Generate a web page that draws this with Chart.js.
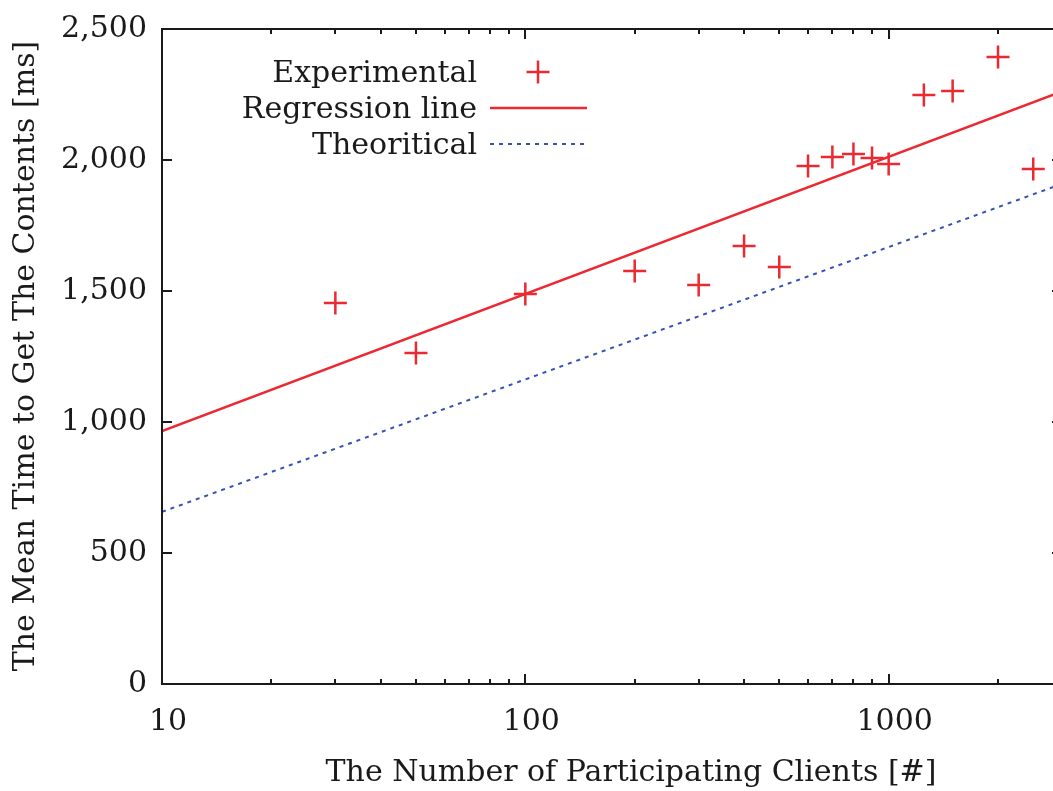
<!DOCTYPE html>
<html><head><meta charset="utf-8">
<script src="https://cdn.jsdelivr.net/npm/chart.js@4"></script>
<style>html,body{margin:0;padding:0;overflow:hidden;background:#fff}
#wrap{width:1053px;height:791px;overflow:hidden;position:relative}
canvas{display:block}</style>
</head><body><div id="wrap"><canvas id="c" width="1076" height="791" style="width:1076px;height:791px"></canvas></div>
<script>
const clients = [30,50,100,200,300,400,500,600,700,800,900,1000,1250,1500,2000,2500];
const meanTime = [1454,1263,1489,1576,1523,1672,1592,1977,2011,2023,2008,1985,2248,2263,2393,1966];
const lineX = [10,3000];
const regressionY = [965,2262];
const theoreticalY = [657,1909];
const xMajorTicks = [10,100,1000];
const xMinorTicks = [20,30,40,50,60,70,80,90,200,300,400,500,600,700,800,900,2000,3000];
const yTicks = [0,500,1000,1500,2000,2500];
const seriesLabels = ['Experimental','Regression line','Theoritical'];
const xTitle = 'The Number of Participating Clients [#]';
const yTitle = 'The Mean Time to Get The Contents [ms]';

const RED = '#ec2830', BLUE = '#3553b0', INK = '#1a1a1a';
const FONT = '"DejaVu Serif", serif';
const FS = 30;

const gnuplotDeco = {
  id: 'gnuplotDeco',
  afterDatasetsDraw(chart) {
    const ctx = chart.ctx, a = chart.chartArea;
    const xs = chart.scales.x, ys = chart.scales.y;
    ctx.save();
    ctx.strokeStyle = INK; ctx.lineWidth = 2;
    ctx.beginPath();
    ctx.moveTo(a.left, a.top); ctx.lineTo(a.right, a.top); ctx.lineTo(a.right, a.bottom);
    ctx.lineTo(a.left, a.bottom); ctx.closePath(); ctx.stroke();
    ctx.beginPath();
    yTicks.forEach(v => {
      const y = Math.round(ys.getPixelForValue(v));
      ctx.moveTo(a.left, y); ctx.lineTo(a.left + 10, y);
      ctx.moveTo(a.right, y); ctx.lineTo(a.right - 10, y);
    });
    xMajorTicks.forEach(v => {
      const x = Math.round(xs.getPixelForValue(v));
      ctx.moveTo(x, a.bottom); ctx.lineTo(x, a.bottom - 10);
      ctx.moveTo(x, a.top); ctx.lineTo(x, a.top + 10);
    });
    xMinorTicks.forEach(v => {
      const x = Math.round(xs.getPixelForValue(v));
      ctx.moveTo(x, a.bottom); ctx.lineTo(x, a.bottom - 5);
      ctx.moveTo(x, a.top); ctx.lineTo(x, a.top + 5);
    });
    ctx.stroke();

    ctx.fillStyle = INK;
    ctx.font = FS + 'px ' + FONT;
    ctx.textAlign = 'center'; ctx.textBaseline = 'middle';
    ctx.fillText(xTitle, 631, 773);
    ctx.save();
    ctx.translate(26, 356); ctx.rotate(-Math.PI / 2);
    ctx.fillText(yTitle, 0, 0);
    ctx.restore();

    const ds = chart.data.datasets;
    const rows = [72, 108, 144];
    ctx.textAlign = 'right';
    ds.forEach((d, i) => {
      const y = rows[i];
      ctx.fillStyle = INK;
      ctx.fillText(d.label, 477, y + 2);
      ctx.strokeStyle = d.borderColor;
      ctx.lineWidth = d.borderWidth || 2;
      if (i === 0) {
        ctx.lineWidth = d.pointBorderWidth;
        const r = d.pointRadius;
        ctx.beginPath();
        ctx.moveTo(538 - r, y); ctx.lineTo(538 + r, y);
        ctx.moveTo(538, y - r); ctx.lineTo(538, y + r);
        ctx.stroke();
      } else {
        ctx.setLineDash(d.borderDash || []);
        ctx.beginPath();
        ctx.moveTo(490, y); ctx.lineTo(i === 1 ? 587 : 584, y);
        ctx.stroke();
        ctx.setLineDash([]);
      }
    });
    ctx.restore();
  }
};

new Chart(document.getElementById('c'), {
  type: 'line',
  data: {
    datasets: [
      {
        label: seriesLabels[0],
        data: clients.map((x, i) => ({x: x, y: meanTime[i]})),
        showLine: false,
        borderColor: RED, backgroundColor: RED,
        pointStyle: 'cross', pointRadius: 11.5, pointBorderWidth: 2.5, pointHoverRadius: 11.5
      },
      {
        label: seriesLabels[1],
        data: lineX.map((x, i) => ({x: x, y: regressionY[i]})),
        borderColor: RED, borderWidth: 2.5, pointRadius: 0, fill: false
      },
      {
        label: seriesLabels[2],
        data: lineX.map((x, i) => ({x: x, y: theoreticalY[i]})),
        borderColor: BLUE, borderWidth: 2, borderDash: [4, 5], pointRadius: 0, fill: false
      }
    ]
  },
  options: {
    responsive: false, maintainAspectRatio: false, animation: false, devicePixelRatio: 1,
    layout: { padding: { top: 29, right: 2, left: 0, bottom: 0 } },
    plugins: { legend: { display: false }, tooltip: { enabled: false } },
    scales: {
      x: {
        type: 'logarithmic', min: 10, max: 3000,
        afterBuildTicks: s => { s.ticks = xMajorTicks.map(v => ({value: v, major: true})); },
        afterFit: s => { s.height = 107; s.paddingLeft = 0; s.paddingRight = 0; },
        grid: { display: false, drawTicks: false },
        border: { display: false },
        ticks: { autoSkip: false, maxRotation: 0, padding: 20, labelOffset: 6,
          color: INK, font: { family: FONT, size: FS }, callback: v => String(v) }
      },
      y: {
        type: 'linear', min: 0, max: 2500,
        afterBuildTicks: s => { s.ticks = yTicks.map(v => ({value: v})); },
        afterFit: s => { s.width = 162; s.paddingTop = 0; s.paddingBottom = 0; },
        grid: { display: false, drawTicks: false },
        border: { display: false },
        ticks: { padding: 15, color: INK, font: { family: FONT, size: FS },
          callback: v => Number(v).toLocaleString('en-US') }
      }
    }
  },
  plugins: [gnuplotDeco]
});
</script></body></html>
